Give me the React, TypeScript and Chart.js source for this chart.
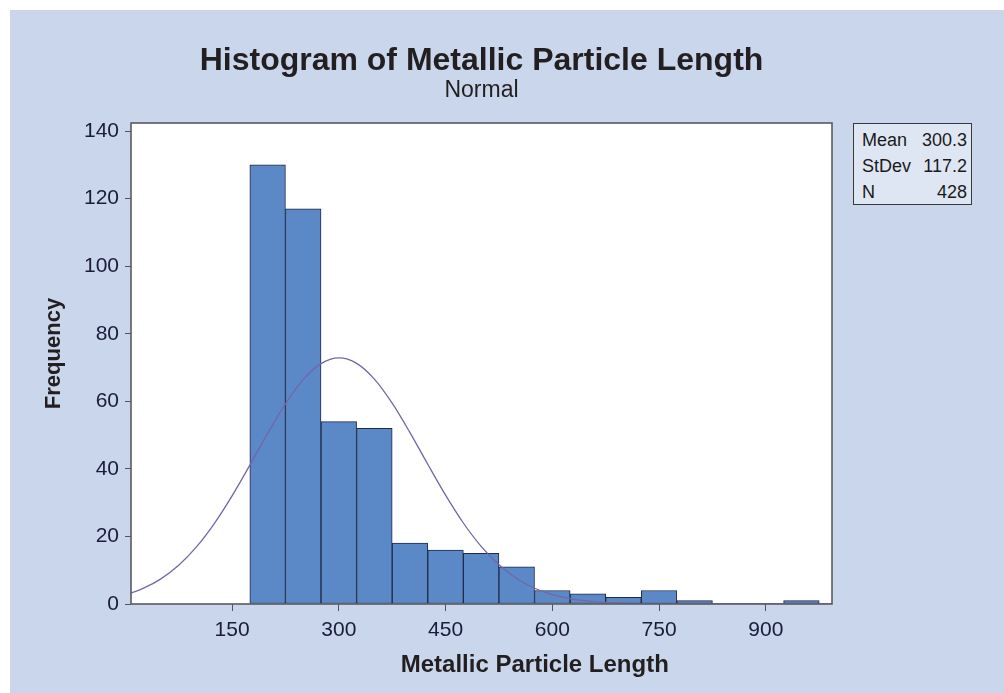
import React, { useEffect, useRef } from "react";
import { Chart, registerables } from "chart.js";

Chart.register(...registerables);

// ---- Data ----
const binCenters = [200, 250, 300, 350, 400, 450, 500, 550, 600, 650, 700, 750, 800, 850, 900, 950];
const frequencies = [130, 117, 54, 52, 18, 16, 15, 11, 4, 3, 2, 4, 1, 0, 0, 1];

// fitted normal curve (Mean 300.3, StDev 117.2, N 428)
const curveX = [8, 25, 50, 75, 100, 125, 150, 175, 200, 225, 250, 275, 300, 325, 350, 375, 400, 425, 450, 475, 500, 525, 550, 575, 600, 625, 650, 675, 700, 725, 750, 775, 800, 850, 900, 950, 993];
const curveY = [3.25, 4.61, 7.45, 11.48, 16.91, 23.8, 32.01, 41.13, 50.5, 59.25, 66.43, 71.16, 72.84, 71.24, 66.58, 59.45, 50.73, 41.36, 32.22, 23.98, 17.06, 11.59, 7.53, 4.67, 2.77, 1.57, 0.85, 0.44, 0.22, 0.1, 0.05, 0.02, 0.01, 0, 0, 0, 0];

const xTickValues = [150, 300, 450, 600, 750, 900];
const yTickStep = 20;
const xRange = [8, 993];
const yRange = [0, 142.4];

const statLabels = ["Mean", "StDev", "N"];
const statValues = ["300.3", "117.2", "428"];

const titleText = "Histogram of Metallic Particle Length";
const subtitleText = "Normal";
const xTitleText = "Metallic Particle Length";
const yTitleText = "Frequency";

const textPlugin = {
  id: "chartTexts",
  beforeDraw(chart: any) {
    const { ctx, chartArea: a } = chart;
    ctx.save();
    ctx.fillStyle = "#ffffff";
    ctx.fillRect(a.left, a.top, a.right - a.left, a.bottom - a.top);
    ctx.restore();
  },
  afterDatasetsDraw(chart: any) {
    const { ctx, chartArea: a } = chart;
    ctx.save();
    ctx.strokeStyle = "#5a5a5e";
    ctx.lineWidth = 1.6;
    ctx.strokeRect(a.left, a.top, a.right - a.left, a.bottom - a.top);
    ctx.restore();
  },
  afterDraw(chart: any) {
    const { ctx, chartArea: a } = chart;
    const cx = (a.left + a.right) / 2;
    ctx.save();
    ctx.fillStyle = "#231f20";
    ctx.textAlign = "center";
    ctx.textBaseline = "alphabetic";
    ctx.font = 'bold 32px "Liberation Sans"';
    ctx.fillText(titleText, cx, a.top - 53);
    ctx.font = '23px "Liberation Sans"';
    ctx.fillText(subtitleText, cx, a.top - 26);
    ctx.font = 'bold 24px "Liberation Sans"';
    ctx.fillText(xTitleText, a.left + (a.right - a.left) * 0.576, a.bottom + 68);
    ctx.translate(a.left - 77, (a.top + a.bottom) / 2 - 10);
    ctx.rotate(-Math.PI / 2);
    ctx.textBaseline = "middle";
    ctx.font = 'bold 22px "Liberation Sans"';
    ctx.fillText(yTitleText, 0, 0);
    ctx.restore();
  },
};

export default function App() {
  const canvasRef = useRef<HTMLCanvasElement | null>(null);

  useEffect(() => {
    if (!canvasRef.current) return;
    const chart = new Chart(canvasRef.current, {
      type: "bar",
      data: {
        datasets: [
          {
            type: "line",
            data: curveX.map((x, i) => ({ x, y: curveY[i] })),
            borderColor: "#7566a6",
            borderWidth: 1.3,
            pointRadius: 0,
            fill: false,
            cubicInterpolationMode: "monotone",
            order: 0,
          } as any,
          {
            type: "bar",
            data: binCenters.map((x, i) => ({ x, y: frequencies[i] })),
            backgroundColor: "#5b88c7",
            borderColor: "#1e2a48",
            borderWidth: (c: any) => (c.raw && c.raw.y ? 1 : 0),
            borderSkipped: false,
            barPercentage: 1,
            categoryPercentage: 1,
            order: 1,
          } as any,
        ],
      },
      options: {
        animation: false,
        responsive: false,
        events: [],
        layout: { padding: { top: 113, right: 172, left: 0, bottom: 0 } },
        plugins: {
          legend: { display: false },
          tooltip: { enabled: false },
          title: { display: false },
        },
        scales: {
          x: {
            type: "linear",
            min: xRange[0],
            max: xRange[1],
            offset: false,
            border: { display: false },
            grid: {
              offset: false,
              drawOnChartArea: false,
              drawTicks: true,
              tickLength: 7,
              color: "#555",
            },
            ticks: {
              color: "#1b1b3a",
              font: { family: '"Liberation Sans"', size: 21 },
              padding: 7,
              maxRotation: 0,
            },
            afterBuildTicks: (scale: any) => {
              scale.ticks = xTickValues.map((v) => ({ value: v }));
            },
            afterFit: (scale: any) => {
              scale.height = 89;
            },
          },
          y: {
            type: "linear",
            min: yRange[0],
            max: yRange[1],
            border: { display: false },
            grid: {
              drawOnChartArea: false,
              drawTicks: true,
              tickLength: 6,
              color: "#555",
            },
            ticks: {
              stepSize: yTickStep,
              includeBounds: false,
              color: "#1b1b3a",
              font: { family: '"Liberation Sans"', size: 21 },
              padding: 6,
            },
            afterFit: (scale: any) => {
              scale.width = 121;
            },
          },
        },
      } as any,
      plugins: [textPlugin],
    });
    return () => chart.destroy();
  }, []);

  return (
    <div
      style={{
        position: "absolute",
        left: 10,
        top: 10,
        width: 994,
        height: 683,
        background: "#c9d6ec",
        overflow: "hidden",
      }}
    >
      <canvas ref={canvasRef} width={994} height={683} style={{ display: "block" }} />
      <div
        style={{
          position: "absolute",
          left: 843,
          top: 113,
          width: 119,
          height: 82,
          boxSizing: "border-box",
          border: "1px solid #3a3a3a",
          background: "#dfe6f3",
          paddingTop: 3,
          paddingLeft: 8,
          paddingRight: 4,
          fontFamily: '"Liberation Sans", sans-serif',
          fontSize: 18,
          lineHeight: "26px",
          color: "#1a1a1a",
        }}
      >
        {statLabels.map((lab, i) => (
          <div key={lab} style={{ display: "flex", justifyContent: "space-between" }}>
            <span>{lab}</span>
            <span>{statValues[i]}</span>
          </div>
        ))}
      </div>
    </div>
  );
}
